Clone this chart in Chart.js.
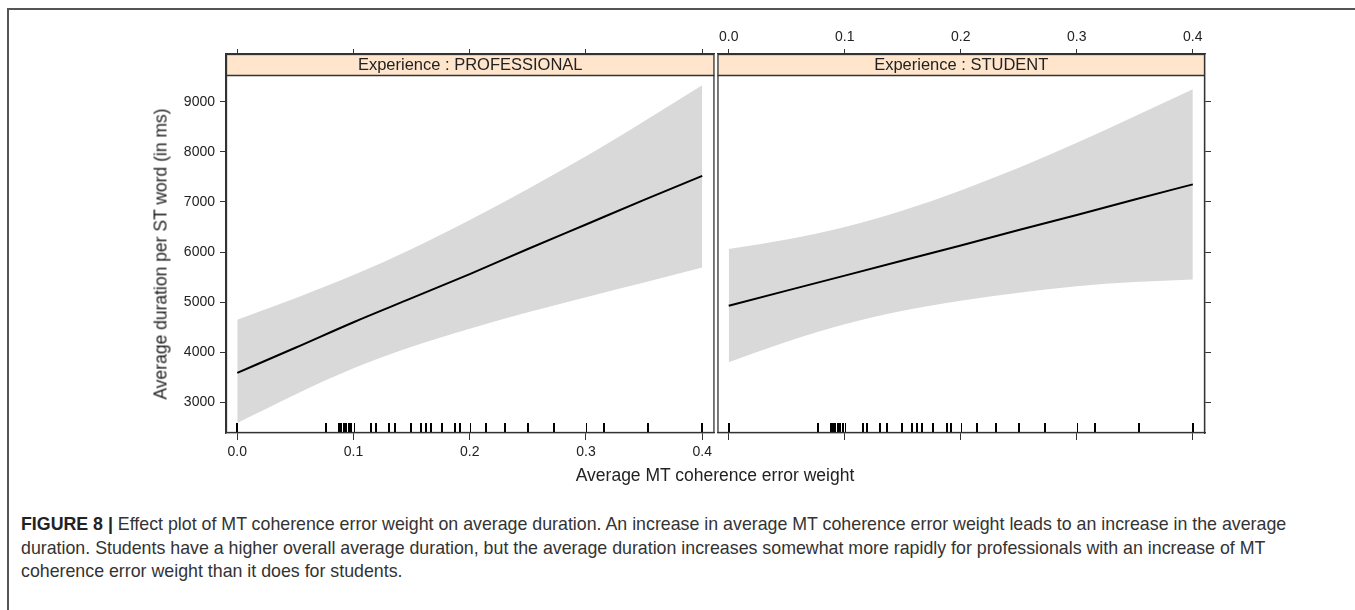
<!DOCTYPE html>
<html>
<head>
<meta charset="utf-8">
<script src="https://cdn.jsdelivr.net/npm/chart.js@4.4.1/dist/chart.umd.min.js"></script>
<style>
	body { margin: 0; width: 1355px; height: 610px; background: #fff; position: relative; overflow: hidden; font-family: Arial, "Liberation Sans", sans-serif; }
	#frame { position: absolute; left: 7px; top: 8px; right: -10px; bottom: -10px; border-top: 2px solid #555; border-left: 2px solid #555; }
	canvas { position: absolute; }
	#ytitle { position: absolute; left: 161px; top: 254px; transform: translate(-50%, -50%) rotate(-90deg); white-space: nowrap; font-size: 17.5px; color: #222; }
	#xtitle { position: absolute; left: 715px; top: 475px; transform: translate(-50%, -50%); white-space: nowrap; font-size: 17.5px; color: #222; }
	#caption { position: absolute; left: 21px; top: 513px; width: 1310px; font-size: 17.8px; line-height: 23.5px; color: #333; }
	#caption b { color: #222; }
</style>
</head>
<body>
<div id="frame"></div>
<canvas id="left" width="568" height="440" style="left:148px;top:30px"></canvas>
<canvas id="right" width="496" height="440" style="left:716px;top:30px"></canvas>
<div id="ytitle">Average duration per ST word (in ms)</div>
<div id="xtitle">Average MT coherence error weight</div>
<div id="caption"><b>FIGURE 8 |</b> Effect plot of MT coherence error weight on average duration. An increase in average MT coherence error weight leads to an increase in the average duration. Students have a higher overall average duration, but the average duration increases somewhat more rapidly for professionals with an increase of MT coherence error weight than it does for students.</div>
<script>
// values
const xGrid = [0, 0.05, 0.1, 0.15, 0.2, 0.25, 0.3, 0.35, 0.4];
const proFit = [3590, 4090, 4600, 5080, 5560, 6060, 6550, 7040, 7520];
const proLower = [2590, 3160, 3680, 4110, 4470, 4800, 5100, 5390, 5690];
const proUpper = [4650, 5080, 5540, 6060, 6640, 7260, 7910, 8610, 9330];
const stuFit = [4930, 5230, 5530, 5830, 6130, 6440, 6740, 7050, 7350];
const stuLower = [3800, 4210, 4560, 4830, 5030, 5190, 5320, 5400, 5450];
const stuUpper = [6060, 6250, 6500, 6830, 7230, 7680, 8180, 8710, 9250];
const rugX = [0, 0.0767, 0.0878, 0.0896, 0.0916, 0.0939, 0.0961, 0.0982, 0.1153, 0.119, 0.1305, 0.136,
	0.1497, 0.1577, 0.162, 0.1663, 0.1763, 0.1877, 0.1917, 0.2141, 0.2307, 0.25, 0.2727, 0.3156, 0.3534, 0.4];
const xTicks = [0, 0.1, 0.2, 0.3, 0.4];
const yTicks = [3000, 4000, 5000, 6000, 7000, 8000, 9000];
const panelNames = ["Experience : PROFESSIONAL", "Experience : STUDENT"];

const xMin = -0.0097, xMax = 0.4105;
const yMin = 2390, yMax = 9951;
const ink = "#333";
const font = "Arial, 'Liberation Sans', sans-serif";

function pts(ys) {
	return xGrid.map(function (x, i) { return { x: x, y: ys[i] }; });
}

var panelPlugin = {
	id: "panel",
	afterDatasetsDraw: function (chart, args, opts) {
		var ctx = chart.ctx;
		var a = chart.chartArea;
		var xs = chart.scales.x;
		ctx.save();
		// rug
		ctx.strokeStyle = "#000";
		ctx.lineWidth = 2;
		rugX.forEach(function (v) {
			var px = Math.round(xs.getPixelForValue(v));
			ctx.beginPath();
			ctx.moveTo(px, a.bottom - 10);
			ctx.lineTo(px, a.bottom);
			ctx.stroke();
		});
		ctx.lineWidth = 1;
		xTicks.forEach(function (v) {
			var px = Math.round(xs.getPixelForValue(v)) + 0.5;
			ctx.beginPath();
			ctx.moveTo(px, a.bottom - 10);
			ctx.lineTo(px, a.bottom);
			ctx.stroke();
		});
		// strip
		ctx.fillStyle = "#ffe5cc";
		ctx.fillRect(a.left, a.top, a.right - a.left, 21);
		ctx.strokeStyle = ink;
		ctx.lineWidth = 1.3;
		ctx.beginPath();
		ctx.moveTo(a.left, a.top + 21.5);
		ctx.lineTo(a.right, a.top + 21.5);
		ctx.stroke();
		ctx.strokeRect(a.left + 0.5, a.top + 0.5, a.right - a.left - 1, a.bottom - a.top - 1);
		ctx.fillStyle = "#222";
		ctx.font = "16.5px " + font;
		ctx.textAlign = "center";
		ctx.textBaseline = "middle";
		ctx.fillText(opts.label, (a.left + a.right) / 2, a.top + 11);
		ctx.restore();
	},
};

function makeChart(id, name, fit, lower, upper, side) {
	var isLeft = side === "left";
	var ctx = document.getElementById(id).getContext("2d");
	return new Chart(ctx, {
		type: "line",
		data: {
			datasets: [
				// first dataset is drawn on top
				{ data: pts(fit), borderWidth: 2, borderColor: "#000", pointRadius: 0, fill: false, cubicInterpolationMode: "monotone" },
				{ data: pts(lower), borderWidth: 0, borderColor: "rgba(0,0,0,0)", pointRadius: 0, fill: false, cubicInterpolationMode: "monotone" },
				{ data: pts(upper), borderWidth: 0, borderColor: "rgba(0,0,0,0)", pointRadius: 0, fill: "-1", backgroundColor: "#d9d9d9", cubicInterpolationMode: "monotone" },
			],
		},
		options: {
			responsive: false,
			animation: false,
			devicePixelRatio: 1,
			layout: { padding: 0 },
			plugins: { legend: { display: false }, tooltip: { enabled: false }, panel: { label: name } },
			scales: {
				x: {
					type: "linear",
					position: "bottom",
					min: xMin,
					max: xMax,
					afterBuildTicks: function (s) { s.ticks = xTicks.map(function (v) { return { value: v }; }); },
					afterFit: function (s) { s.height = 37; },
					grid: { drawOnChartArea: false, tickLength: 7, color: ink, tickWidth: 1 },
					border: { color: ink, width: 1.3 },
					ticks: { display: isLeft, padding: 4, color: "#222", font: { size: 14, family: font }, maxRotation: 0,
						callback: function (v) { return v.toFixed(1); } },
				},
				x2: {
					type: "linear",
					position: "top",
					min: xMin,
					max: xMax,
					afterBuildTicks: function (s) { s.ticks = xTicks.map(function (v) { return { value: v }; }); },
					afterFit: function (s) { s.height = 24; },
					grid: { drawOnChartArea: false, tickLength: 5, color: ink },
					border: { color: ink, width: 1.3 },
					ticks: { display: !isLeft, padding: 3, color: "#222", font: { size: 14, family: font }, maxRotation: 0,
						callback: function (v) { return v.toFixed(1); } },
				},
				y: {
					type: "linear",
					position: isLeft ? "left" : "right",
					min: yMin,
					max: yMax,
					afterBuildTicks: function (s) { s.ticks = yTicks.map(function (v) { return { value: v }; }); },
					afterFit: function (s) { s.width = isLeft ? 78 : 7; },
					grid: { drawOnChartArea: false, tickLength: 6, color: ink },
					border: { color: ink, width: 1.3 },
					ticks: { display: isLeft, padding: 5, color: "#222", font: { size: 14, family: font },
						callback: function (v) { return String(v); } },
				},
			},
		},
		plugins: [panelPlugin],
	});
}

window.onload = function () {
	makeChart("left", panelNames[0], proFit, proLower, proUpper, "left");
	makeChart("right", panelNames[1], stuFit, stuLower, stuUpper, "right");
};
</script>
</body>
</html>
